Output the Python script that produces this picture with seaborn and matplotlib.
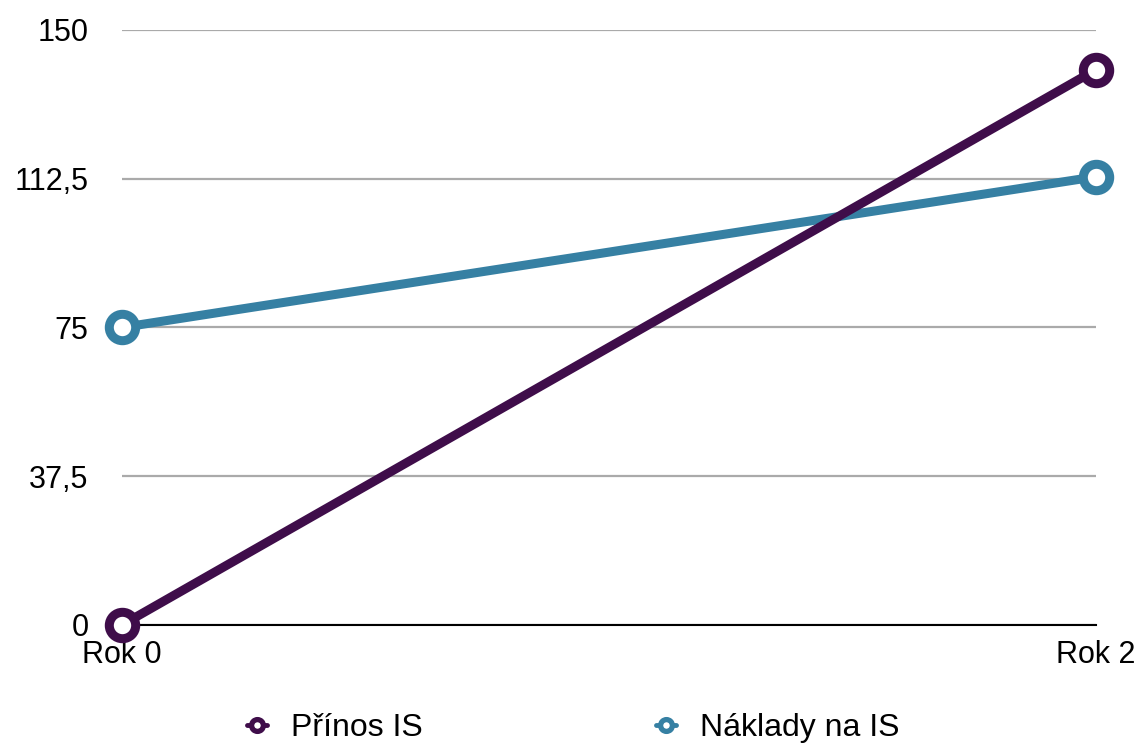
import matplotlib
matplotlib.use("Agg")
import matplotlib.pyplot as plt
from matplotlib.lines import Line2D
import seaborn as sns
import pandas as pd

years = ["Rok 0", "Rok 2"]
prinos = [0, 140]
naklady = [75, 113]
series_names = ["Přínos IS", "Náklady na IS"]
colors = ["#3f0d4a", "#3680a3"]
y_ticks = [0, 37.5, 75, 112.5, 150]
y_tick_labels = ["0", "37,5", "75", "112,5", "150"]

df = pd.DataFrame({
    "x": [0, 1, 0, 1],
    "value": prinos + naklady,
    "series": [series_names[0]] * 2 + [series_names[1]] * 2,
})

sns.set_theme(style="white")
plt.rcParams["font.family"] = ["Liberation Sans", "DejaVu Sans"]
plt.rcParams["text.color"] = "black"
plt.rcParams["xtick.color"] = "black"
plt.rcParams["ytick.color"] = "black"

fig = plt.figure(figsize=(11.4, 7.44), dpi=100)
ax = fig.add_axes([0.107, 0.16, 0.8544, 0.7997])

# draw Náklady first so Přínos sits on top at the crossing
for name, col in zip(series_names[::-1], colors[::-1]):
    sub = df[df["series"] == name]
    sns.lineplot(data=sub, x="x", y="value", color=col, lw=6.5, ax=ax,
                 marker="o", markersize=19, markerfacecolor="white",
                 markeredgecolor=col, markeredgewidth=6.5, legend=False,
                 clip_on=False, zorder=5)

ax.set_xlim(0, 1)
ax.set_ylim(0, 150)
ax.set_yticks(y_ticks)
ax.set_yticklabels(y_tick_labels)
ax.set_xticks([0, 1])
ax.set_xticklabels(years)
ax.set_xlabel("")
ax.set_ylabel("")
ax.yaxis.grid(True, color="#aaaaaa", lw=1.6)
ax.set_axisbelow(True)
for s in ["left", "right", "top"]:
    ax.spines[s].set_visible(False)
ax.spines["bottom"].set_color("black")
ax.spines["bottom"].set_linewidth(1.5)
ax.spines["bottom"].set_zorder(3)
ax.tick_params(axis="y", length=0, pad=24, labelsize=22)
ax.tick_params(axis="x", length=0, pad=11, labelsize=22)

handles = [Line2D([], [], lw=3.5, color=c, marker="o", markersize=8.5,
                  markerfacecolor="white", markeredgecolor=c,
                  markeredgewidth=3.8) for c in colors]
fig.legend(handles, series_names, loc="lower center", ncol=2,
           bbox_to_anchor=(0.503, -0.037), frameon=False, fontsize=23,
           columnspacing=7.3, handlelength=0.62, handletextpad=0.75)

fig.savefig("out.png", dpi=100)
